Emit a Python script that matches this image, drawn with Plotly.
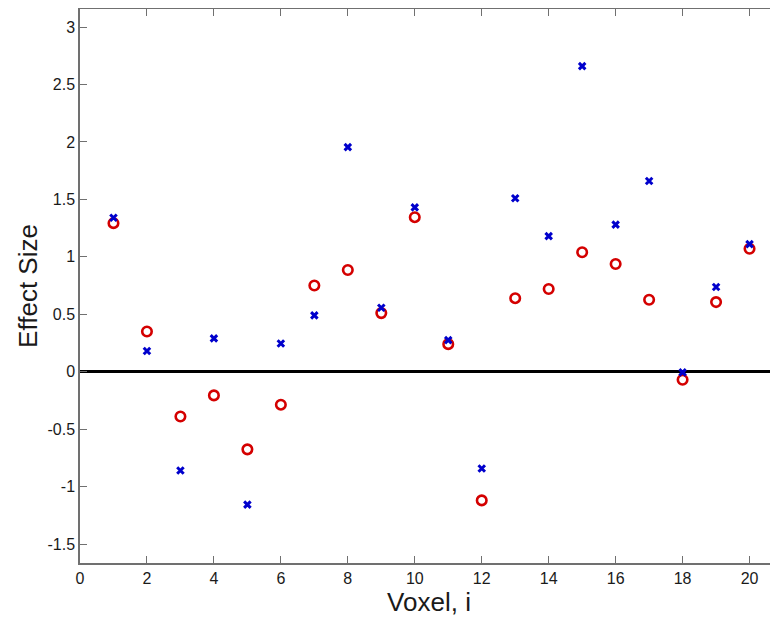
import plotly.graph_objects as go

voxel = list(range(1, 21))
effect_x = [1.34, 0.18, -0.86, 0.29, -1.157, 0.246, 0.49, 1.955, 0.557, 1.43,
            0.275, -0.843, 1.51, 1.18, 2.66, 1.28, 1.66, -0.006, 0.737, 1.11]
effect_o = [1.293, 0.35, -0.39, -0.206, -0.676, -0.287, 0.75, 0.885, 0.51, 1.345,
            0.24, -1.12, 0.64, 0.72, 1.04, 0.937, 0.626, -0.07, 0.606, 1.07]

xticks = [0, 2, 4, 6, 8, 10, 12, 14, 16, 18, 20]
yticks = [-1.5, -1, -0.5, 0, 0.5, 1, 1.5, 2, 2.5, 3]
ytick_text = ["-1.5", "-1", "-0.5", "0", "0.5", "1", "1.5", "2", "2.5", "3"]

fig = go.Figure()
fig.add_trace(go.Scatter(
    x=voxel, y=effect_o, mode="markers",
    marker=dict(symbol="circle-open", size=9.5, color="#d40000",
                line=dict(width=2.6, color="#d40000")),
    showlegend=False))
fig.add_trace(go.Scatter(
    x=voxel, y=effect_x, mode="markers",
    marker=dict(symbol="x-thin-open", size=6.5, color="#0000cc",
                line=dict(width=3, color="#0000cc")),
    showlegend=False))
# invisible trace for right-side ticks
fig.add_trace(go.Scatter(x=[], y=[], yaxis="y2", showlegend=False))

axis_font = dict(family="Liberation Sans, Arial, sans-serif", size=16, color="#1a1a1a")

# page body has an 8px default margin, so the figure is sized to fit the window
fig.update_layout(
    width=770, height=615,
    margin=dict(l=72, r=0, t=1, b=60),
    paper_bgcolor="white", plot_bgcolor="white",
    font=dict(family="Liberation Sans, Arial, sans-serif", color="#1a1a1a"),
    xaxis=dict(range=[0, 20.85], tickvals=xticks, ticks="inside", ticklen=7,
               tickcolor="#707070", showline=True, linecolor="#707070", linewidth=1.5,
               mirror="ticks", showgrid=False, zeroline=False, tickfont=axis_font,
               title=dict(text="Voxel, i", font=dict(size=26, color="#1a1a1a"), standoff=2)),
    yaxis=dict(range=[-1.665, 3.157], tickvals=yticks, ticktext=ytick_text,
               ticks="inside", ticklen=7, tickcolor="#707070", showline=True,
               linecolor="#707070", linewidth=1.5, showgrid=False,
               zeroline=True, zerolinecolor="black", zerolinewidth=3,
               tickfont=axis_font,
               title=dict(text="Effect Size", font=dict(size=26, color="#1a1a1a"), standoff=2)),
    yaxis2=dict(overlaying="y", side="right", matches="y", tickvals=yticks,
                ticks="inside", ticklen=2, tickcolor="#707070", showline=False,
                showticklabels=False, showgrid=False, zeroline=False),
)

fig.write_html("out.html")
